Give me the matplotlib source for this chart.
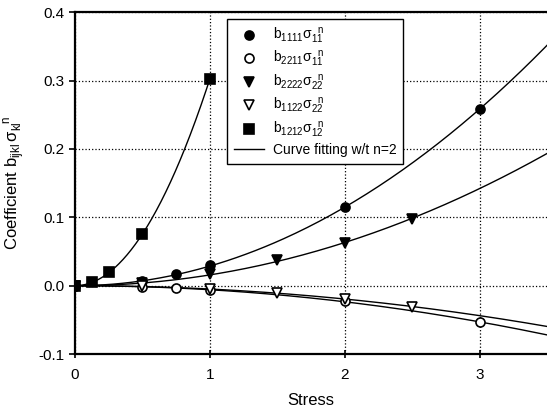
import numpy as np
import matplotlib
matplotlib.use('Agg')
import matplotlib.pyplot as plt

plt.rcParams['font.family'] = ['Liberation Sans', 'DejaVu Sans']
plt.rcParams['mathtext.fontset'] = 'custom'
plt.rcParams['mathtext.rm'] = 'Liberation Sans'
plt.rcParams['mathtext.it'] = 'Liberation Sans'

# b1111 sigma11^n (filled circles)
x_1111 = [0, 0.5, 0.75, 1, 2, 3]
y_1111 = [0, 0.007, 0.017, 0.030, 0.115, 0.258]
# b2211 sigma11^n (open circles)
x_2211 = [0, 0.5, 0.75, 1, 2, 3]
y_2211 = [0, -0.002, -0.004, -0.006, -0.023, -0.053]
# b2222 sigma22^n (filled down triangles)
x_2222 = [0, 0.5, 1, 1.5, 2, 2.5]
y_2222 = [0, 0.004, 0.017, 0.037, 0.063, 0.098]
# b1122 sigma22^n (open down triangles)
x_1122 = [0, 0.5, 1, 1.5, 2, 2.5]
y_1122 = [0, -0.001, -0.005, -0.010, -0.019, -0.031]
# b1212 sigma12^n (filled squares)
x_1212 = [0, 0.125, 0.25, 0.5, 1]
y_1212 = [0, 0.005, 0.020, 0.076, 0.302]

x_ticks = [0, 1, 2, 3]
y_ticks = [-0.1, 0.0, 0.1, 0.2, 0.3, 0.4]

series = [
    (x_1111, y_1111, 'o', 'black', r'$b_{1111}\sigma_{11}^{\ \ n}$', 3.5),
    (x_2211, y_2211, 'o', 'white', r'$b_{2211}\sigma_{11}^{\ \ n}$', 3.5),
    (x_2222, y_2222, 'v', 'black', r'$b_{2222}\sigma_{22}^{\ \ n}$', 3.5),
    (x_1122, y_1122, 'v', 'white', r'$b_{1122}\sigma_{22}^{\ \ n}$', 3.5),
    (x_1212, y_1212, 's', 'black', r'$b_{1212}\sigma_{12}^{\ \ n}$', 1.0),
]

fig = plt.figure(figsize=(5.47, 4.07), dpi=100)
ax = fig.add_axes([0.137, 0.130, 0.863, 0.840])

for xs, ys, marker, face, label, xmax in series:
    xs = np.asarray(xs)
    ys = np.asarray(ys)
    # least-squares fit of y = a * x^2
    a = np.sum(xs**2 * ys) / np.sum(xs**4)
    xf = np.linspace(0, xmax, 200)
    ax.plot(xf, a * xf**2, color='black', lw=1.0, zorder=2)
    ax.plot(xs, ys, linestyle='none', marker=marker, markersize=6.5,
            markerfacecolor=face, markeredgecolor='black', markeredgewidth=1.2,
            label=label, zorder=3)

ax.plot([], [], color='black', lw=1.0, label='Curve fitting w/t n=2')

ax.set_xlim(0, 3.5)
ax.set_ylim(-0.1, 0.4)
ax.set_xticks(x_ticks)
ax.set_yticks(y_ticks)
ax.set_xticklabels([str(t) for t in x_ticks])
ax.set_yticklabels(['%.1f' % t for t in y_ticks])
ax.tick_params(direction='out', length=4, width=1.2, labelsize=11)
ax.tick_params(axis='x', direction='inout', length=6, pad=7)

ax.grid(True, linestyle=':', color='black', linewidth=0.9)
for side in ['left', 'bottom', 'top']:
    ax.spines[side].set_linewidth(1.6)
ax.spines['right'].set_visible(False)

ax.set_xlabel('Stress', fontsize=12, labelpad=8)
ax.set_ylabel(r'Coefficient $b_{ijkl}\,\sigma_{kl}^{\ \ n}$', fontsize=12, labelpad=8)

leg = ax.legend(loc='upper left', bbox_to_anchor=(0.322, 0.98), fontsize=10,
                frameon=True, fancybox=False, edgecolor='black', framealpha=1,
                handlelength=2.2, handletextpad=0.6, borderpad=0.5,
                labelspacing=0.25, borderaxespad=0)
leg.get_frame().set_linewidth(1.0)

plt.savefig('out.png', dpi=100)
plt.close()
